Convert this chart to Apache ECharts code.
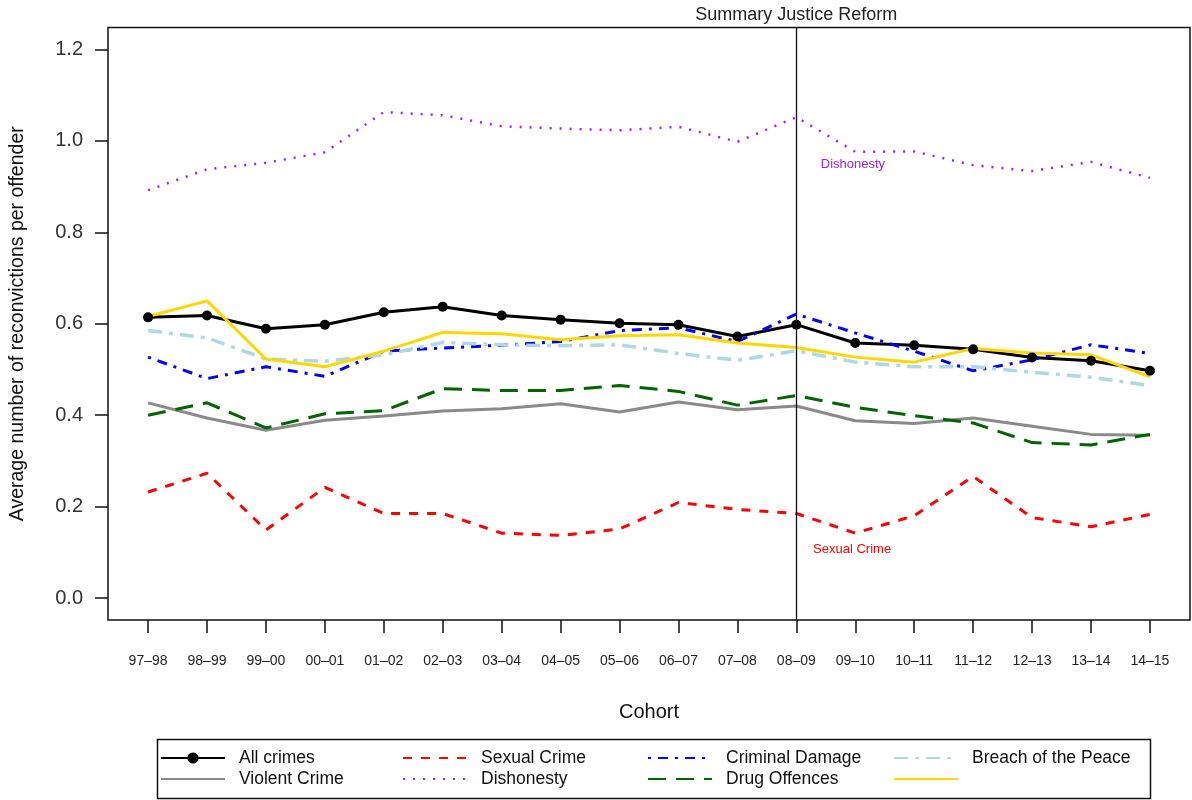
<!DOCTYPE html>
<html>
<head>
<meta charset="utf-8">
<title>Reconvictions per offender</title>
<script src="https://cdn.jsdelivr.net/npm/echarts@6/dist/echarts.min.js"></script>
<style>
  html, body { margin: 0; padding: 0; background: #fff; }
  #chart { width: 1192px; height: 800px; }
</style>
</head>
<body>
<div id="chart"></div>
<script>
// cohorts on the x axis
var cohorts = ['97–98', '98–99', '99–00', '00–01', '01–02', '02–03', '03–04', '04–05', '05–06',
               '06–07', '07–08', '08–09', '09–10', '10–11', '11–12', '12–13', '13–14', '14–15'];
var reformCohort = '08–09';

// average reconvictions per offender
var allCrimes      = [0.614, 0.618, 0.589, 0.598, 0.625, 0.637, 0.618, 0.609, 0.601, 0.598, 0.572, 0.598, 0.558, 0.553, 0.544, 0.526, 0.519, 0.497];
var violentCrime   = [0.427, 0.394, 0.367, 0.389, 0.398, 0.409, 0.414, 0.425, 0.407, 0.429, 0.412, 0.420, 0.388, 0.382, 0.394, 0.376, 0.358, 0.356];
var sexualCrime    = [0.232, 0.273, 0.149, 0.242, 0.185, 0.185, 0.142, 0.137, 0.151, 0.209, 0.194, 0.185, 0.142, 0.180, 0.266, 0.176, 0.156, 0.183];
var dishonesty     = [0.892, 0.938, 0.952, 0.975, 1.063, 1.056, 1.032, 1.027, 1.023, 1.031, 0.998, 1.052, 0.976, 0.977, 0.947, 0.934, 0.954, 0.919];
var criminalDamage = [0.527, 0.480, 0.506, 0.485, 0.540, 0.547, 0.553, 0.561, 0.585, 0.591, 0.561, 0.621, 0.580, 0.540, 0.497, 0.521, 0.554, 0.535];
var drugOffences   = [0.400, 0.427, 0.372, 0.403, 0.410, 0.458, 0.454, 0.454, 0.465, 0.452, 0.422, 0.443, 0.417, 0.399, 0.383, 0.340, 0.335, 0.358];
var breachOfPeace  = [0.585, 0.569, 0.523, 0.518, 0.532, 0.559, 0.554, 0.552, 0.554, 0.535, 0.520, 0.541, 0.516, 0.506, 0.506, 0.494, 0.483, 0.465];
var unlabelled     = [0.616, 0.650, 0.523, 0.506, 0.540, 0.581, 0.578, 0.565, 0.574, 0.576, 0.558, 0.548, 0.527, 0.516, 0.546, 0.536, 0.532, 0.484];

var yTicks = [0, 0.2, 0.4, 0.6, 0.8, 1.0, 1.2];

var FONT = "'Liberation Sans', Arial, sans-serif";

function pairs(values) {
    return values.map(function (v, i) { return [i, v]; });
}
function xTickValues() {
    return cohorts.map(function (c, i) { return i; });
}

function lineSeries(name, values, color, width, dash, extra) {
    var s = {
        name: name,
        type: 'line',
        data: pairs(values),
        symbol: 'none',
        silent: true,
        animation: false,
        lineStyle: { color: color, width: width, type: dash },
        itemStyle: { color: color }
    };
    for (var k in extra) s[k] = extra[k];
    return s;
}

// legend entry: only "All crimes" keeps its point marker
function legendItem(name) {
    if (name === 'All crimes') return { name: name };
    return { name: name, itemStyle: { opacity: 0 } };
}

function legendColumn(left, names) {
    return {
        orient: 'vertical',
        left: left,
        top: 744,
        data: names.map(legendItem),
        itemWidth: 64,
        itemHeight: 14,
        itemGap: 3,
        selectedMode: false,
        textStyle: { fontFamily: FONT, fontSize: 17.5, color: '#111', padding: [0, 0, 0, 9] }
    };
}

var myChart = echarts.init(document.getElementById('chart'));

var reformIndex = cohorts.indexOf(reformCohort);

var option = {
    backgroundColor: '#fff',
    textStyle: { fontFamily: FONT },
    grid: {
        left: 107,
        right: 2,
        top: 27.5,
        bottom: 180,
        show: true,
        borderColor: '#111',
        borderWidth: 1.5
    },
    xAxis: {
        type: 'value',
        min: -0.68,
        max: 17.68,
        name: 'Cohort',
        nameLocation: 'middle',
        nameGap: 82,
        nameTextStyle: { fontFamily: FONT, fontSize: 20, color: '#111' },
        axisLine: { show: false, onZero: false },
        splitLine: { show: false },
        axisTick: {
            show: true,
            length: 13,
            customValues: xTickValues(),
            lineStyle: { color: '#111', width: 1.5 }
        },
        axisLabel: {
            customValues: xTickValues(),
            margin: 34,
            fontFamily: FONT,
            fontSize: 14,
            color: '#222',
            formatter: function (v) { return cohorts[Math.round(v)]; }
        }
    },
    yAxis: {
        type: 'value',
        min: -0.048,
        max: 1.248,
        name: 'Average number of reconvictions per offender',
        nameLocation: 'middle',
        nameRotate: 90,
        nameGap: 80,
        nameTextStyle: { fontFamily: FONT, fontSize: 19.5, color: '#111' },
        axisLine: { show: false, onZero: false },
        splitLine: { show: false },
        axisTick: {
            show: true,
            length: 13,
            customValues: yTicks,
            lineStyle: { color: '#111', width: 1.5 }
        },
        axisLabel: {
            customValues: yTicks,
            margin: 25,
            fontFamily: FONT,
            fontSize: 20,
            color: '#333',
            formatter: function (v) { return v.toFixed(1); }
        }
    },
    legend: [
        legendColumn(155, ['All crimes', 'Violent Crime']),
        legendColumn(397, ['Sexual Crime', 'Dishonesty']),
        legendColumn(642, ['Criminal Damage', 'Drug Offences']),
        legendColumn(888, ['Breach of the Peace', ' '])
    ],
    graphic: [{
        type: 'rect',
        left: 155,
        top: 737,
        shape: { width: 993, height: 59 },
        style: { fill: 'none', stroke: '#111', lineWidth: 1.5 },
        silent: true
    }],
    series: [
        lineSeries('All crimes', allCrimes, '#000', 3, 'solid', {
            symbol: 'circle',
            symbolSize: 10,
            showSymbol: true,
            markLine: {
                silent: true,
                symbol: 'none',
                animation: false,
                lineStyle: { color: '#111', width: 1.3, type: 'solid' },
                label: {
                    show: true,
                    position: 'end',
                    distance: 3,
                    formatter: 'Summary Justice Reform',
                    fontFamily: FONT,
                    fontSize: 18,
                    color: '#222'
                },
                data: [{ xAxis: reformIndex }]
            }
        }),
        lineSeries('Violent Crime', violentCrime, '#8a8a8a', 3, 'solid'),
        lineSeries('Sexual Crime', sexualCrime, '#ff0000', 3, [9, 9], {
            markPoint: {
                silent: true,
                symbol: 'circle',
                symbolSize: 0,
                animation: false,
                label: {
                    show: true, position: 'right', formatter: 'Sexual Crime',
                    fontFamily: FONT, fontSize: 13, color: '#ff0000'
                },
                data: [{ coord: [reformIndex + 0.2, 0.106] }]
            }
        }),
        lineSeries('Dishonesty', dishonesty, '#a020f0', 2.5, [2, 8], {
            markPoint: {
                silent: true,
                symbol: 'circle',
                symbolSize: 0,
                animation: false,
                label: {
                    show: true, position: 'right', formatter: 'Dishonesty',
                    fontFamily: FONT, fontSize: 13, color: '#a020f0'
                },
                data: [{ coord: [reformIndex + 0.33, 0.948] }]
            }
        }),
        lineSeries('Criminal Damage', criminalDamage, '#0000ff', 3, [3, 7, 10, 7]),
        lineSeries('Drug Offences', drugOffences, '#006400', 3, [18, 10]),
        lineSeries('Breach of the Peace', breachOfPeace, '#add8e6', 3.5, [14, 7, 4, 7]),
        lineSeries(' ', unlabelled, '#ffd700', 3, 'solid')
    ]
};

myChart.setOption(option);
</script>
</body>
</html>
